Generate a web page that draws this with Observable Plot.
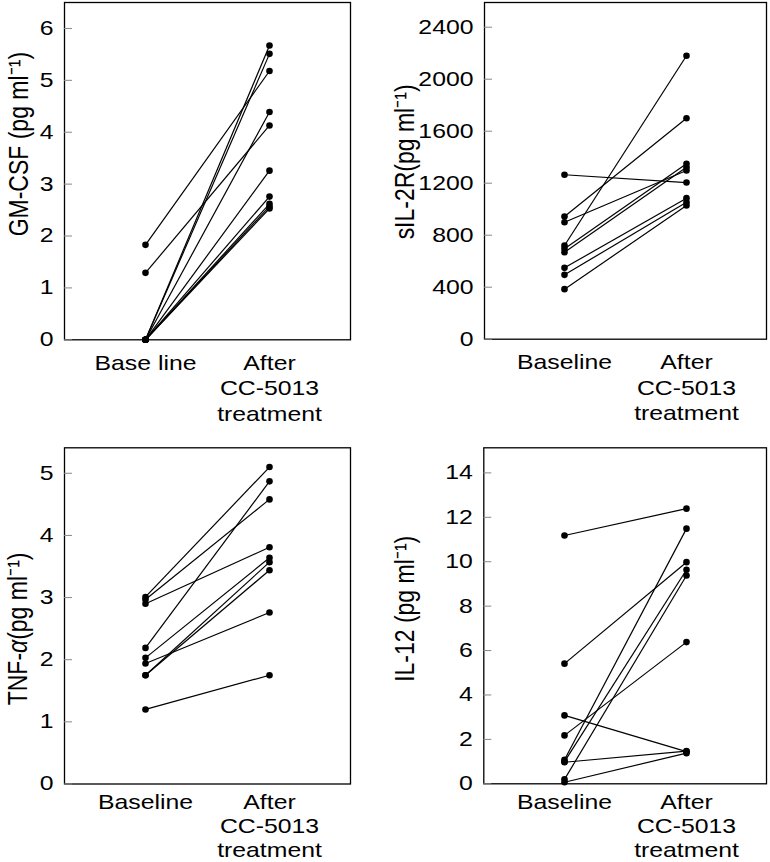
<!DOCTYPE html>
<html>
<head>
<meta charset="utf-8">
<script src="https://cdn.jsdelivr.net/npm/d3@7"></script>
<script src="https://cdn.jsdelivr.net/npm/@observablehq/plot@0.6"></script>
<style>
  html, body { margin: 0; padding: 0; background: #fff; }
  #wrap { position: relative; width: 770px; height: 862px; background: #fff; }
  #wrap svg { position: absolute; }
</style>
</head>
<body>
<div id="wrap"></div>
<script>
// ---- data ----
const categories = ["Baseline", "After"];
const xLabelsGM = ["Base line", "After\nCC-5013\ntreatment"];
const xLabels = ["Baseline", "After\nCC-5013\ntreatment"];

const gmBase  = [1.83, 1.29, 0, 0, 0, 0, 0, 0, 0, 0];
const gmAfter = [5.18, 4.13, 5.67, 5.51, 4.39, 3.26, 2.76, 2.62, 2.57, 2.53];
const gmTicks = [0, 1, 2, 3, 4, 5, 6];

const sil2rBase  = [1265, 944, 900, 721, 695, 669, 549, 495, 385];
const sil2rAfter = [1205, 1700, 1298, 2180, 1350, 1323, 1085, 1054, 1028];
const sil2rTicks = [0, 400, 800, 1200, 1600, 2000, 2400];

const tnfBase  = [3.01, 2.97, 2.90, 2.19, 2.03, 1.94, 1.75, 1.75, 1.20];
const tnfAfter = [5.10, 4.58, 3.81, 4.87, 3.64, 2.76, 3.57, 3.44, 1.75];
const tnfTicks = [0, 1, 2, 3, 4, 5];

const il12Base  = [11.18, 5.41, 3.08, 2.18, 1.08, 1.00, 0.97, 0.20, 0.07];
const il12After = [12.39, 9.98, 1.45, 6.38, 11.49, 9.64, 1.47, 9.38, 1.38];
const il12Ticks = [0, 2, 4, 6, 8, 10, 12, 14];

const titles = ["GM-CSF (pg ml\u207B\u00B9)", "sIL-2R(pg ml\u207B\u00B9)", "TNF-\u03B1(pg ml\u207B\u00B9)", "IL-12 (pg ml\u207B\u00B9)"];

const FONT = "'Liberation Sans', Arial, Helvetica, sans-serif";
const STRETCH = 1.24;       // the reference typography is horizontally wide
const TITLE_STRETCH = 1.2;

function panel({base, after, ticks, ymax, title, labels, left, top, mLeft, mRight, mTop, mBottom, titleDx, titleDy, xPad, lh}) {
  const pairs = base.map((b, i) => ({b, a: after[i]}));
  const pts = pairs.flatMap(d => [{c: categories[0], v: d.b}, {c: categories[1], v: d.a}]);
  const svg = Plot.plot({
    width: 385,
    height: 431,
    marginLeft: mLeft,
    marginRight: mRight,
    marginTop: mTop,
    marginBottom: mBottom,
    style: {fontFamily: FONT, fontSize: "20px", background: "transparent", overflow: "visible", color: "black"},
    x: {type: "point", domain: categories, padding: 0.652},
    y: {domain: [0, ymax]},
    marks: [
      Plot.frame({stroke: "black", strokeWidth: 1.3}),
      Plot.axisY(ticks, {tickSize: -8, tickPadding: 19, stroke: "#888", strokeWidth: 1, fill: "black", fontSize: 20,
                         label: null, tickFormat: d => String(d)}),
      Plot.axisX({tickSize: 0, tickPadding: xPad, fontSize: 20, lineHeight: lh, fill: "black", label: null,
                  tickFormat: d => labels[categories.indexOf(d)]}),
      Plot.link(pairs, {x1: () => categories[0], x2: () => categories[1], y1: "b", y2: "a", stroke: "black", strokeWidth: 1.2}),
      Plot.dot(pts, {x: "c", y: "v", r: 3.3, fill: "black"}),
      Plot.text([title], {frameAnchor: "left", rotate: -90, dx: titleDx, dy: titleDy, lineAnchor: "bottom",
                          textAnchor: "middle", fontSize: 23, fill: "black"})
    ]
  });
  const ns = "http://www.w3.org/2000/svg";
  svg.querySelectorAll("text").forEach(t => {
    if (t.textContent === titles[2]) {
      t.textContent = "";
      t.appendChild(document.createTextNode("TNF-"));
      const ts = document.createElementNS(ns, "tspan");
      ts.setAttribute("font-style", "italic");
      ts.textContent = "\u03B1";
      t.appendChild(ts);
      t.appendChild(document.createTextNode("(pg ml\u207B\u00B9)"));
    }
    const tr = t.getAttribute("transform") || "";
    const s = tr.includes("rotate") ? ` scale(1,${TITLE_STRETCH})` : ` scale(${STRETCH},1)`;
    t.setAttribute("transform", tr + s);
  });
  svg.style.left = left + "px";
  svg.style.top = top + "px";
  return svg;
}

const wrap = document.getElementById("wrap");
wrap.appendChild(panel({base: gmBase, after: gmAfter, ticks: gmTicks, ymax: 6.5, title: titles[0], labels: xLabelsGM,
  left: 0, top: 0, mLeft: 64, mRight: 35, mTop: 2, mBottom: 91.7, titleDx: -37, titleDy: -27, xPad: 12, lh: 1.27}));
wrap.appendChild(panel({base: sil2rBase, after: sil2rAfter, ticks: sil2rTicks, ymax: 2590, title: titles[1], labels: xLabels,
  left: 385, top: 0, mLeft: 99, mRight: 4, mTop: 2, mBottom: 92.3, titleDx: -71, titleDy: -9, xPad: 12, lh: 1.27}));
wrap.appendChild(panel({base: tnfBase, after: tnfAfter, ticks: tnfTicks, ymax: 5.41, title: titles[2], labels: xLabels,
  left: 0, top: 431, mLeft: 64, mRight: 35, mTop: 16.3, mBottom: 78.5, titleDx: -38, titleDy: 13, xPad: 8, lh: 1.2}));
wrap.appendChild(panel({base: il12Base, after: il12After, ticks: il12Ticks, ymax: 15.13, title: titles[3], labels: xLabels,
  left: 385, top: 431, mLeft: 98.3, mRight: 4, mTop: 16.3, mBottom: 78.7, titleDx: -70, titleDy: -7, xPad: 8, lh: 1.2}));
</script>
</body>
</html>
